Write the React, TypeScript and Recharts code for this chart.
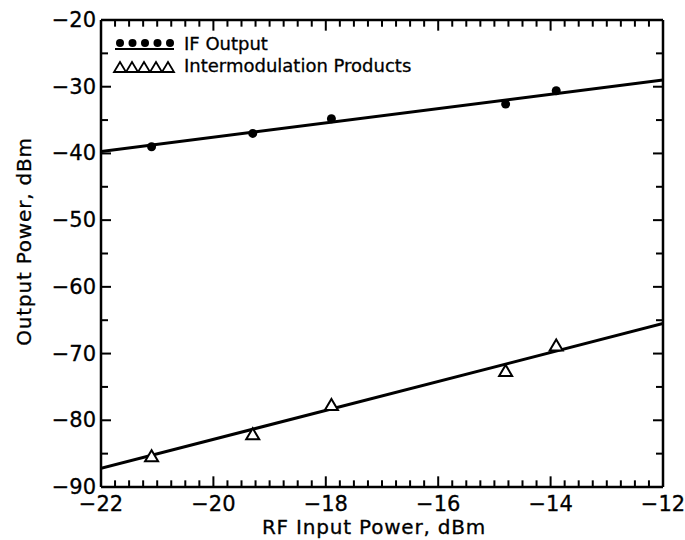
import React from 'react';
import {
  ComposedChart,
  Scatter,
  Line,
  XAxis,
  YAxis,
  Legend,
  ReferenceLine,
} from 'recharts';

// measured points
const rfInput = [-21.1, -19.3, -17.9, -14.8, -13.9];
const ifOutput = [-39.0, -37.0, -34.8, -32.6, -30.6];
const imProducts = [-85.4, -82.1, -77.7, -72.6, -68.8];

// fitted straight lines (end points)
const fitX = [-22, -12];
const ifFit = [-39.7, -29.0];
const imFit = [-87.2, -65.5];

const xMajor = [-22, -20, -18, -16, -14, -12];
const yMajor = [-20, -30, -40, -50, -60, -70, -80, -90];

const xTicks: number[] = [];
for (let i = 0; i <= 40; i++) xTicks.push(-22 + i * 0.25);
const yTicks: number[] = [];
for (let v = -90; v <= -20; v += 5) yTicks.push(v);

const ifData = rfInput.map((x, i) => ({ x, y: ifOutput[i] }));
const imData = rfInput.map((x, i) => ({ x, y: imProducts[i] }));
const ifFitData = fitX.map((x, i) => ({ x, y: ifFit[i] }));
const imFitData = fitX.map((x, i) => ({ x, y: imFit[i] }));

const FONT = '"DejaVu Sans", sans-serif';
const minus = (v: number) => String(v).replace('-', '\u2212');

const isMajorX = (v: number) => xMajor.includes(v);
const isMajorY = (v: number) => yMajor.includes(v);

// tick length in y units (about 6.67 px per dB)
const xTickLen = (v: number) => (isMajorX(v) ? 1.6 : 1.0);

const BottomLabel = (p: any) => {
  const v = p.payload.value;
  if (!isMajorX(v)) return <g />;
  return (
    <text x={p.x} y={p.y + 24} textAnchor="middle" fontSize={21} fontFamily={FONT} fill="#000" stroke="#000" strokeWidth={0.3}>
      {minus(v)}
    </text>
  );
};

const LeftTick = (p: any) => {
  const v = p.payload.value;
  const len = isMajorY(v) ? 10 : 7;
  return (
    <g>
      <line x1={p.x} x2={p.x + len} y1={p.y} y2={p.y} stroke="#000" strokeWidth={2} />
      {isMajorY(v) && (
        <text x={p.x - 5} y={p.y + 7} textAnchor="end" fontSize={21} fontFamily={FONT} fill="#000" stroke="#000" strokeWidth={0.3}>
          {minus(v)}
        </text>
      )}
    </g>
  );
};

const RightTick = (p: any) => {
  const v = p.payload.value;
  const len = isMajorY(v) ? 10 : 7;
  return <line x1={p.x} x2={p.x - len} y1={p.y} y2={p.y} stroke="#000" strokeWidth={2} />;
};

const Dot = (p: any) => <circle cx={p.cx} cy={p.cy} r={4.5} fill="#000" />;

const Tri = (p: any) => {
  const { cx, cy } = p;
  return (
    <polygon
      points={`${cx - 6.5},${cy + 5} ${cx + 6.5},${cy + 5} ${cx},${cy - 6}`}
      fill="#fff"
      stroke="#000"
      strokeWidth={2}
    />
  );
};

const LegendBox = () => (
  <div style={{ fontFamily: FONT, fontSize: 18, color: '#000', lineHeight: '22px', WebkitTextStroke: '0.3px #000' }}>
    <div style={{ display: 'flex', alignItems: 'center' }}>
      <svg width={66} height={22}>
        {[0, 1, 2, 3, 4].map((i) => (
          <circle key={i} cx={8 + i * 12.5} cy={10} r={4} fill="#000" />
        ))}
        <line x1={3} x2={62} y1={16} y2={16} stroke="#000" strokeWidth={2} />
      </svg>
      <span style={{ marginLeft: 6 }}>IF Output</span>
    </div>
    <div style={{ display: 'flex', alignItems: 'center' }}>
      <svg width={66} height={22}>
        {[0, 1, 2, 3, 4].map((i) => (
          <polygon
            key={i}
            points={`${2 + i * 12},17 ${14 + i * 12},17 ${8 + i * 12},7`}
            fill="none"
            stroke="#000"
            strokeWidth={1.8}
          />
        ))}
      </svg>
      <span style={{ marginLeft: 6 }}>Intermodulation Products</span>
    </div>
  </div>
);

export default function App() {
  return (
    <div style={{ position: 'absolute', left: 0, top: 0, background: '#fff' }}>
      <ComposedChart
        width={685}
        height={540}
        margin={{ top: 19, right: 21, bottom: 0, left: 0 }}
      >
        <XAxis
          xAxisId="b"
          dataKey="x"
          type="number"
          domain={[-22, -12]}
          ticks={xTicks}
          interval={0}
          minTickGap={0}
          height={53}
          tickSize={0}
          tickMargin={0}
          tickLine={false}
          tick={BottomLabel}
          axisLine={{ stroke: '#000', strokeWidth: 2.5 }}
          allowDataOverflow
          label={{
            content: (props: any) => {
              const vb = props.viewBox;
              return (
                <text x={vb.x + vb.width / 2 - 8} y={vb.y + 47} textAnchor="middle" fontSize={20} fontFamily={FONT} fill="#000" stroke="#000" strokeWidth={0.3} letterSpacing={0.8}>
                  RF Input Power, dBm
                </text>
              );
            },
          }}
        />
        <XAxis
          xAxisId="t"
          orientation="top"
          type="number"
          dataKey="x"
          domain={[-22, -12]}
          ticks={xTicks}
          interval={0}
          height={1}
          tickSize={0}
          tickMargin={0}
          tickLine={false}
          tick={false}
          axisLine={{ stroke: '#000', strokeWidth: 2.5 }}
          allowDataOverflow
        />
        <YAxis
          yAxisId="l"
          dataKey="y"
          type="number"
          domain={[-90, -20]}
          ticks={yTicks}
          interval={0}
          width={101}
          tickSize={0}
          tickMargin={0}
          tickLine={false}
          tick={<LeftTick />}
          axisLine={{ stroke: '#000', strokeWidth: 2.5 }}
          allowDataOverflow
          label={{
            content: (props: any) => {
              const vb = props.viewBox;
              const cy = vb.y + vb.height / 2 - 12;
              return (
                <text x={31} y={cy} transform={`rotate(-90, 31, ${cy})`} textAnchor="middle" fontSize={20} fontFamily={FONT} fill="#000" stroke="#000" strokeWidth={0.3} letterSpacing={0.8}>
                  Output Power, dBm
                </text>
              );
            },
          }}
        />
        <YAxis
          yAxisId="r"
          orientation="right"
          dataKey="y"
          type="number"
          domain={[-90, -20]}
          ticks={yTicks}
          interval={0}
          width={1}
          tickSize={0}
          tickMargin={0}
          tickLine={false}
          tick={<RightTick />}
          axisLine={{ stroke: '#000', strokeWidth: 2.5 }}
          allowDataOverflow
        />
        {xTicks.map((v) => (
          <ReferenceLine
            key={`b${v}`}
            xAxisId="b"
            yAxisId="l"
            segment={[{ x: v, y: -90 }, { x: v, y: -90 + xTickLen(v) }]}
            stroke="#000"
            strokeWidth={2}
            ifOverflow="visible"
          />
        ))}
        {xTicks.map((v) => (
          <ReferenceLine
            key={`t${v}`}
            xAxisId="b"
            yAxisId="l"
            segment={[{ x: v, y: -20 }, { x: v, y: -20 - xTickLen(v) }]}
            stroke="#000"
            strokeWidth={2}
            ifOverflow="visible"
          />
        ))}
        <Legend
          layout="vertical"
          align="center"
          verticalAlign="middle"
          wrapperStyle={{ top: 33, left: 112, width: 340 }}
          content={() => <LegendBox />}
        />
        <Line
          xAxisId="t"
          yAxisId="r"
          data={ifFitData}
          dataKey="y"
          stroke="#000"
          strokeWidth={3}
          dot={false}
          isAnimationActive={false}
          legendType="none"
        />
        <Line
          xAxisId="t"
          yAxisId="r"
          data={imFitData}
          dataKey="y"
          stroke="#000"
          strokeWidth={3}
          dot={false}
          isAnimationActive={false}
          legendType="none"
        />
        <Scatter
          xAxisId="b"
          yAxisId="l"
          data={ifData}
          dataKey="y"
          shape={<Dot />}
          isAnimationActive={false}
        />
        <Scatter
          xAxisId="b"
          yAxisId="l"
          data={imData}
          dataKey="y"
          shape={<Tri />}
          isAnimationActive={false}
        />
      </ComposedChart>
    </div>
  );
}
